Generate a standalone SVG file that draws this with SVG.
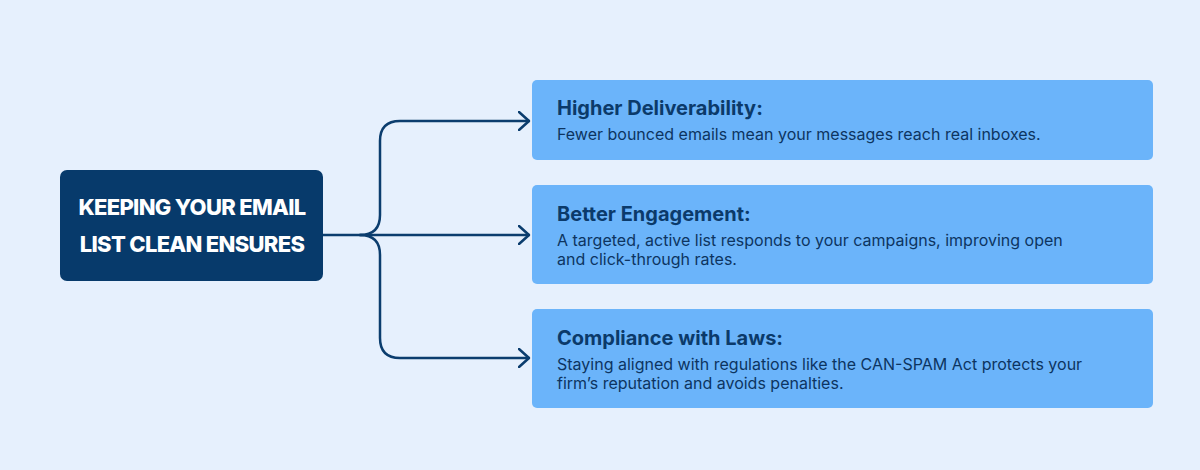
<svg xmlns="http://www.w3.org/2000/svg" width="1200" height="470" viewBox="0 0 1200 470">
<defs>
<style>
.card{fill:#6bb4fa;}
.title{font-family:Inter,"Liberation Sans",sans-serif;font-weight:700;font-size:20px;fill:#0b3a6a;}
.desc{font-family:Inter,"Liberation Sans",sans-serif;font-weight:400;font-size:16px;fill:#0d3461;}
.conn{fill:none;stroke:#0b3d6e;stroke-width:2.5;stroke-linecap:round;stroke-linejoin:round;}
.main{font-family:Inter,"Liberation Sans",sans-serif;font-weight:800;font-size:22px;fill:#ffffff;letter-spacing:-0.7px;}
</style>
<marker id="arr" viewBox="0 0 12 20" refX="11" refY="10" markerWidth="12" markerHeight="20" markerUnits="userSpaceOnUse" orient="auto">
<path d="M1,1 L11,10 L1,19" fill="none" stroke="#0b3d6e" stroke-width="2.5" stroke-linecap="round" stroke-linejoin="round"/>
</marker>
</defs>
<rect width="1200" height="470" fill="#e6f0fd"/>
<g id="connectors">
<path class="conn" d="M323,235 L529,235" marker-end="url(#arr)"/>
<path class="conn" d="M360,235 Q380,235 380,215 L380,141 Q380,121 400,121 L529,121" marker-end="url(#arr)"/>
<path class="conn" d="M360,235 Q380,235 380,255 L380,338 Q380,358 400,358 L529,358" marker-end="url(#arr)"/>
</g>
<g id="center">
<rect x="60" y="170" width="263" height="111" rx="7" fill="#073a6b"/>
<text class="main" x="192" y="215" text-anchor="middle">KEEPING YOUR EMAIL</text>
<text class="main" x="192" y="252" text-anchor="middle">LIST CLEAN ENSURES</text>
</g>
<g id="card1">
<rect class="card" x="532" y="80" width="621" height="80" rx="5"/>
<text class="title" x="557" y="115">Higher Deliverability:</text>
<text class="desc" x="557" y="140">Fewer bounced emails mean your messages reach real inboxes.</text>
</g>
<g id="card2">
<rect class="card" x="532" y="185" width="621" height="99" rx="5"/>
<text class="title" x="557" y="221">Better Engagement:</text>
<text class="desc" x="557" y="246">A targeted, active list responds to your campaigns, improving open</text>
<text class="desc" x="557" y="265">and click-through rates.</text>
</g>
<g id="card3">
<rect class="card" x="532" y="309" width="621" height="99" rx="5"/>
<text class="title" x="557" y="345">Compliance with Laws:</text>
<text class="desc" x="557" y="370">Staying aligned with regulations like the CAN-SPAM Act protects your</text>
<text class="desc" x="557" y="389">firm’s reputation and avoids penalties.</text>
</g>
</svg>
